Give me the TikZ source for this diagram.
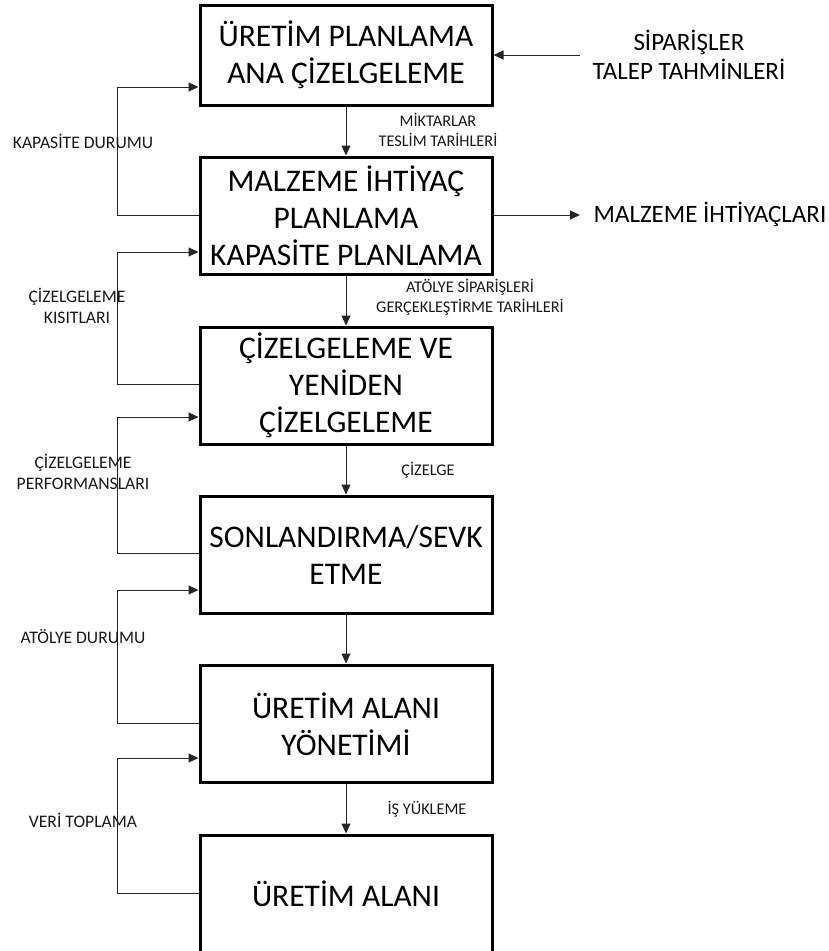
\documentclass[tikz,border=0pt]{standalone}
\usepackage{fontspec}
\setmainfont{Carlito}
\usetikzlibrary{arrows.meta}
\begin{document}
\begin{tikzpicture}[x=1pt,y=-1pt,
  box/.style={draw=black,line width=3pt,minimum width=292pt,inner sep=0pt,align=center,font=\fontsize{31.5}{37}\selectfont,text=black},
  conn/.style={draw=black!85,line width=1pt,-{Triangle[length=10pt,width=9pt]}},
  small/.style={font=\fontsize{16.3}{19.5}\selectfont,text=black!90,align=center,inner sep=0pt},
  side/.style={font=\fontsize{17.6}{21.5}\selectfont,text=black!90,align=center,inner sep=0pt},
  big/.style={font=\fontsize{25}{29}\selectfont,text=black,align=center,inner sep=0pt}]
\useasboundingbox (0,0) rectangle (829,951);
\node[box,minimum height=99.5pt] (b1) at (346,55.25) {ÜRETİM PLANLAMA\\ANA ÇİZELGELEME};
\node[box,minimum height=117pt] (b2) at (346,215.5) {MALZEME İHTİYAÇ\\PLANLAMA\\KAPASİTE PLANLAMA};
\node[box,minimum height=117pt] (b3) at (346,385.5) {ÇİZELGELEME VE\\YENİDEN\\ÇİZELGELEME};
\node[box,minimum height=117.5pt] (b4) at (346,554.75) {SONLANDIRMA/SEVK\\ETME};
\node[box,minimum height=117.5pt] (b5) at (346,723.75) {ÜRETİM ALANI\\YÖNETİMİ};
\node[box,minimum height=117pt] (b6) at (346,893.5) {ÜRETİM ALANI};
% vertical arrows
\draw[conn] (b1.south) -- (b2.north);
\draw[conn] (b2.south) -- (b3.north);
\draw[conn] (b3.south) -- (b4.north);
\draw[conn] (b4.south) -- (b5.north);
\draw[conn] (b5.south) -- (b6.north);
% feedback loops
\draw[conn] (b2.west |- 0,215) -| (117,87) -- (b1.west |- 0,87);
\draw[conn] (b3.west |- 0,384) -| (117,252) -- (b2.west |- 0,252);
\draw[conn] (b4.west |- 0,553) -| (117,417) -- (b3.west |- 0,417);
\draw[conn] (b5.west |- 0,723) -| (117,590) -- (b4.west |- 0,590);
\draw[conn] (b6.west |- 0,893) -| (117,758) -- (b5.west |- 0,758);
% side arrows
\coordinate (inS) at (580,55);
\coordinate (outM) at (580,215);
\draw[conn] (inS) -- (b1.east |- inS);
\draw[conn] (b2.east |- outM) -- (outM);
% labels
\node[big] (lsip) at (689,55) {SİPARİŞLER\\TALEP TAHMİNLERİ};
\node[big] (lmal) at (710,214) {MALZEME İHTİYAÇLARI};
\node[small] (lmik) at (438,130) {MİKTARLAR\\TESLİM TARİHLERİ};
\node[small] (lato) at (470,297) {ATÖLYE SİPARİŞLERİ\\GERÇEKLEŞTİRME TARİHLERİ};
\node[small] (lciz) at (428,470) {ÇİZELGE};
\node[small] (lis) at (427,809) {İŞ YÜKLEME};
\node[side] (lkap) at (83,141) {KAPASİTE DURUMU};
\node[side] (lck) at (77,306) {ÇİZELGELEME\\KISITLARI};
\node[side] (lcp) at (83,472) {ÇİZELGELEME\\PERFORMANSLARI};
\node[side] (latd) at (83,636) {ATÖLYE DURUMU};
\node[side] (lver) at (83,820) {VERİ TOPLAMA};
\end{tikzpicture}
\end{document}
